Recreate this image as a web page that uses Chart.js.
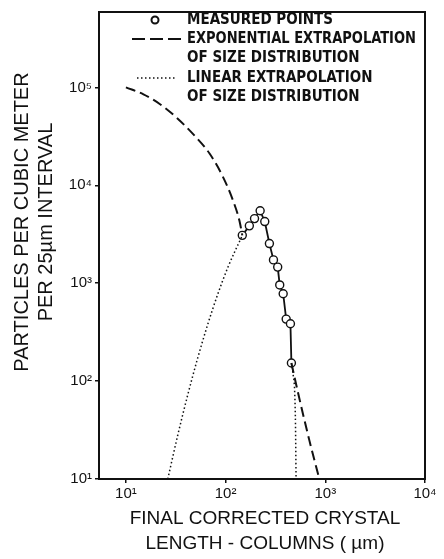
<!DOCTYPE html>
<html>
<head>
<meta charset="utf-8">
<script src="https://cdn.jsdelivr.net/npm/chart.js@4"></script>
<style>
  html, body { margin: 0; padding: 0; background: #fff; }
  #wrap { width: 444px; height: 559px; }
</style>
</head>
<body>
<div id="wrap"><canvas id="chart" width="444" height="559"></canvas></div>
<script>
// ===== DATA =====
// measured points (crystal length in um, particles per m3 per 25um interval)
const measuredX = [147, 173, 195, 222, 247, 275, 302, 333, 349, 378, 405, 447, 457];
const measuredY = [3080, 3850, 4570, 5500, 4260, 2540, 1730, 1460, 960, 780, 430, 385, 153];

// exponential extrapolation (dashed), small and large sizes
const expLeftX = [10, 15, 22, 32, 47, 69, 94, 118, 138, 147];
const expLeftY = [100000, 85000, 67300, 49400, 33500, 21100, 12200, 7100, 4300, 3080];
const expRightX = [457, 528, 692, 871];
const expRightY = [153, 79, 24.8, 10];

// linear extrapolation (dotted)
const linLeftX = [26.3, 33.1, 41.7, 52.5, 66.1, 83.2, 104.7, 147];
const linLeftY = [10, 28, 72.3, 172, 378, 766, 1429, 3080];
const linRightX = [457, 471, 501, 509];
const linRightY = [153, 126, 42.6, 10];

const xTicks = [10, 100, 1000, 10000];
const yTicks = [10, 100, 1000, 10000, 100000];
const tickLabels = { 10: '10\u00b9', 100: '10\u00b2', 1000: '10\u00b3', 10000: '10\u2074', 100000: '10\u2075' };

const legendItems = ['MEASURED POINTS', 'EXPONENTIAL EXTRAPOLATION', 'OF SIZE DISTRIBUTION',
  'LINEAR EXTRAPOLATION', 'OF SIZE DISTRIBUTION'];

const INK = '#111';

function pts(xs, ys) {
  return xs.map((x, i) => ({ x: x, y: ys[i] }));
}

function lineSet(xs, ys, dash, width) {
  return {
    data: pts(xs, ys),
    showLine: true,
    borderColor: INK,
    borderWidth: width,
    borderDash: dash,
    pointRadius: 0,
    cubicInterpolationMode: 'monotone',
    fill: false
  };
}

// ===== EXTRAS: frame, legend, axis titles =====
const extras = {
  id: 'extras',
  afterDraw(chart) {
    const { ctx, chartArea: a } = chart;
    ctx.save();
    ctx.strokeStyle = INK;
    ctx.lineWidth = 2;
    ctx.setLineDash([]);
    ctx.strokeRect(a.left, a.top, a.right - a.left, a.bottom - a.top);

    // legend
    const rows = [20, 39, 58, 78, 97];
    const tx = 187;
    ctx.fillStyle = INK;
    ctx.font = 'bold 15px "DejaVu Sans Condensed", "Liberation Sans Narrow", sans-serif';
    ctx.textBaseline = 'middle';
    ctx.textAlign = 'left';
    legendItems.forEach((t, i) => ctx.fillText(t, tx, rows[i], 229));

    ctx.lineWidth = 2;
    ctx.beginPath();
    ctx.arc(155, rows[0], 3.5, 0, Math.PI * 2);
    ctx.fillStyle = '#fff';
    ctx.fill();
    ctx.stroke();

    ctx.setLineDash([13, 5]);
    ctx.beginPath();
    ctx.moveTo(132, rows[1]);
    ctx.lineTo(182, rows[1]);
    ctx.stroke();

    ctx.lineWidth = 1.5;
    ctx.setLineDash([1.5, 2.5]);
    ctx.beginPath();
    ctx.moveTo(137, rows[3]);
    ctx.lineTo(175, rows[3]);
    ctx.stroke();
    ctx.setLineDash([]);

    // axis titles
    ctx.fillStyle = INK;
    ctx.font = '19px "Liberation Sans", Arial, sans-serif';
    ctx.textAlign = 'center';
    ctx.fillText('FINAL CORRECTED CRYSTAL', 265, 519);
    ctx.fillText('LENGTH - COLUMNS ( \u00b5m)', 265, 544);

    ctx.save();
    ctx.translate(22, 222);
    ctx.rotate(-Math.PI / 2);
    ctx.font = '20px "Liberation Sans", Arial, sans-serif';
    ctx.fillText('PARTICLES PER CUBIC METER', 0, 0);
    ctx.fillText('PER 25\u00b5m INTERVAL', 0, 24);
    ctx.restore();
    ctx.restore();
  }
};

// ===== CHART =====
const ctx = document.getElementById('chart');
new Chart(ctx, {
  type: 'scatter',
  data: {
    datasets: [
      lineSet(expLeftX, expLeftY, [10, 5], 2),
      lineSet(expRightX, expRightY, [10, 5], 2),
      lineSet(linLeftX, linLeftY, [1.5, 2.5], 1.5),
      lineSet(linRightX, linRightY, [1.5, 2.5], 1.5),
      {
        data: pts(measuredX, measuredY),
        showLine: true,
        borderColor: INK,
        borderWidth: 1.8,
        pointRadius: 4,
        pointBorderWidth: 1.4,
        pointBackgroundColor: '#fff',
        pointBorderColor: INK,
        tension: 0
      }
    ]
  },
  options: {
    responsive: false,
    animation: false,
    devicePixelRatio: 1,
    layout: { padding: { top: 7, right: 19, left: 0, bottom: 0 } },
    plugins: { legend: { display: false }, tooltip: { enabled: false } },
    scales: {
      x: {
        type: 'logarithmic',
        min: Math.pow(10, 0.73),
        max: 10000,
        afterBuildTicks: axis => { axis.ticks = xTicks.map(v => ({ value: v })); },
        afterFit: s => { s.height = 80; },
        grid: { display: true, drawOnChartArea: false, drawTicks: true, tickLength: 4, color: INK, lineWidth: 1.5 },
        border: { display: false },
        ticks: {
          color: INK,
          padding: 2,
          maxRotation: 0,
          autoSkip: false,
          font: { family: '"Liberation Sans", Arial, sans-serif', size: 15 },
          callback: v => tickLabels[v] || ''
        }
      },
      y: {
        type: 'logarithmic',
        min: 10,
        max: Math.pow(10, 5.77),
        afterBuildTicks: axis => { axis.ticks = yTicks.map(v => ({ value: v })); },
        afterFit: s => { s.width = 99; },
        grid: { display: true, drawOnChartArea: false, drawTicks: true, tickLength: 4, color: INK, lineWidth: 1.5 },
        border: { display: false },
        ticks: {
          color: INK,
          padding: 3,
          autoSkip: false,
          font: { family: '"Liberation Sans", Arial, sans-serif', size: 15 },
          callback: v => tickLabels[v] || ''
        }
      }
    }
  },
  plugins: [extras]
});
</script>
</body>
</html>
